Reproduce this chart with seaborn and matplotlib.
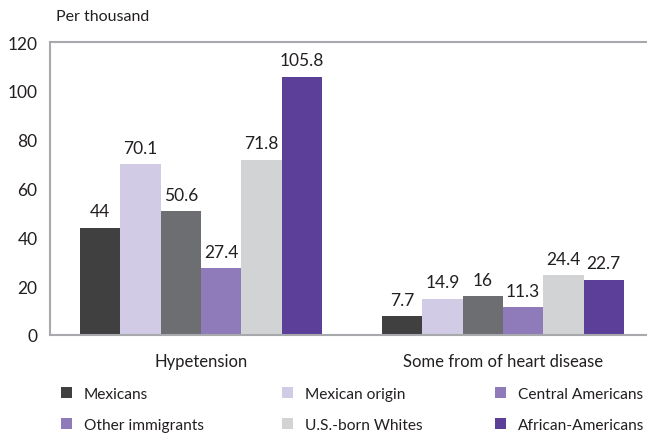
import pandas as pd
import seaborn as sns
import matplotlib.pyplot as plt
from matplotlib.patches import Patch

# Data
conditions = ['Hypetension', 'Some from of heart disease']
groups = ['Mexicans', 'Mexican origin', 'Central Americans',
          'Other immigrants', 'U.S.-born Whites', 'African-Americans']
hypertension = [44, 70.1, 50.6, 27.4, 71.8, 105.8]
heart_disease = [7.7, 14.9, 16, 11.3, 24.4, 22.7]

bar_colors = ['#404041', '#d1cbe5', '#6d6e71', '#8f7bb9', '#d1d3d4', '#5b3f98']
# the original legend shows the purple swatch for Central Americans too
legend_colors = ['#404041', '#d1cbe5', '#8f7bb9', '#8f7bb9', '#d1d3d4', '#5b3f98']

rows = []
for cond, vals in zip(conditions, [hypertension, heart_disease]):
    for g, v in zip(groups, vals):
        rows.append({'condition': cond, 'group': g, 'value': v})
df = pd.DataFrame(rows)

sns.set_style('white')
plt.rcParams['font.family'] = ['Lato', 'DejaVu Sans']

fig = plt.figure(figsize=(6.47, 4.35), dpi=100)
ax = fig.add_axes([50 / 647, 99 / 435, 604 / 647, 293 / 435])

sns.barplot(data=df, x='condition', y='value', hue='group', hue_order=groups,
            palette=bar_colors, width=0.8, saturation=1, legend=False,
            linewidth=0, ax=ax)

for c in ax.containers:
    ax.bar_label(c, labels=[f'{v:g}' for v in c.datavalues], padding=6,
                 fontsize=12.5, color='#231f20')

ax.set_ylim(0, 120)
ax.set_xlim(-0.5, 1.5)
ax.set_yticks(range(0, 121, 20))
ax.tick_params(axis='y', labelsize=12.5, length=5, width=1.2, pad=4,
               colors='#a7a9ac', labelcolor='#231f20')
ax.set_xticks([0, 1])
ax.set_xticklabels(conditions, fontsize=12, color='#231f20')
ax.tick_params(axis='x', which='major', length=0, pad=13)
ax.set_xticks([-0.5, 0.5], minor=True)
ax.tick_params(axis='x', which='minor', length=6, width=1.2, color='#a7a9ac')
ax.set_xlabel('')
ax.set_ylabel('')

for side in ['left', 'bottom', 'top']:
    ax.spines[side].set_color('#a7a9ac')
    ax.spines[side].set_linewidth(1.5)
ax.spines['right'].set_visible(False)

fig.text(56 / 647, 1 - 17 / 435, 'Per thousand', fontsize=11.5, color='#231f20',
         va='center', ha='left')

# legend laid out in rows: one small legend per column
col_x = [61, 282, 495]
for i, x in enumerate(col_x):
    idx = [i, i + 3]
    handles = [Patch(facecolor=legend_colors[j], edgecolor='none') for j in idx]
    fig.legend(handles, [groups[j] for j in idx], loc='center left',
               bbox_to_anchor=(x / 647, 1 - 410.5 / 435), frameon=False,
               fontsize=11.2, handlelength=0.72, handleheight=0.72,
               labelspacing=1.1, handletextpad=0.76, borderpad=0,
               borderaxespad=0, labelcolor='#231f20')

plt.savefig('out.png', dpi=100)
